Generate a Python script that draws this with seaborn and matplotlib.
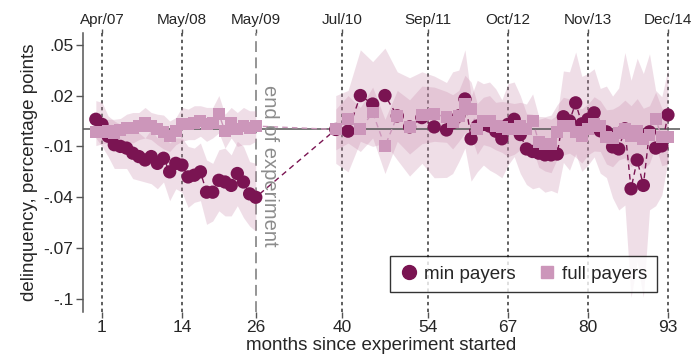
import matplotlib
matplotlib.use("Agg")
import matplotlib.pyplot as plt
from matplotlib.lines import Line2D
import pandas as pd
import seaborn as sns

# Months since the experiment started, before and after the gap
months_pre = list(range(0, 27))
months_post = [39, 41, 43, 45, 47, 49, 51, 53, 55, 57] + list(range(58, 94))

# Estimated effect on delinquency (percentage points)
min_pre = [0.006, 0.003, -0.004, -0.009, -0.010, -0.011, -0.014, -0.016, -0.018,
           -0.016, -0.020, -0.017, -0.025, -0.020, -0.021, -0.028, -0.027, -0.025,
           -0.037, -0.037, -0.030, -0.031, -0.033, -0.026, -0.031, -0.038, -0.040]
min_post = [0.000, -0.001, 0.020, 0.015, 0.020, 0.008, 0.0015, 0.007, 0.0015, -0.0003,
            0.004, 0.008, 0.018, -0.0055, 0.002, 0.003, 0.002, -0.001, -0.0055, 0.003,
            0.006, -0.003, -0.0115, -0.013, -0.014, -0.015, -0.015, -0.0145, 0.0075, 0.005,
            0.0157, 0.0033, 0.006, 0.0098, -0.0008, -0.0014, -0.0103, -0.0115, 0.0004, -0.035,
            -0.018, -0.033, -0.0014, -0.011, -0.0097, 0.0086]
full_pre = [-0.0015, -0.0015, -0.001, -0.002, -0.0005, 0.001, 0.001, 0.002, 0.004,
            0.002, 0.000, -0.0015, -0.004, -0.001, 0.003, 0.003, 0.004, 0.005,
            0.003, 0.004, 0.009, -0.001, 0.004, 0.000, 0.002, 0.001, 0.002]
full_post = [0.000, 0.006, 0.000, 0.010, -0.010, 0.008, 0.0015, 0.0086, 0.009, 0.0074,
             0.0045, 0.008, 0.015, 0.012, 0.0003, 0.005, 0.005, 0.002, 0.0015, 0.000,
             0.0003, 0.002, 0.000, 0.005, -0.0073, -0.0085, -0.0085, -0.0014, 0.002, 0.002,
             -0.0014, -0.0038, 0.000, 0.0033, 0.002, -0.0044, -0.005, -0.002, 0.0003, -0.004,
             -0.0008, -0.0055, -0.003, 0.006, -0.0044, -0.0044]

# Half-widths of the confidence bands
min_pre_ci = [0.011, 0.013, 0.012, 0.014, 0.013, 0.012, 0.015, 0.014, 0.013,
              0.016, 0.015, 0.014, 0.017, 0.015, 0.016, 0.018, 0.016, 0.017,
              0.019, 0.017, 0.018, 0.020, 0.018, 0.019, 0.021, 0.019, 0.020]
min_post_ci = [0.020, 0.024, 0.027, 0.025, 0.028, 0.026, 0.029, 0.027, 0.030, 0.028,
               0.030, 0.027, 0.029, 0.025, 0.027, 0.024, 0.026, 0.025, 0.023, 0.024,
               0.022, 0.023, 0.021, 0.022, 0.020, 0.022, 0.021, 0.023, 0.027, 0.029,
               0.030, 0.028, 0.027, 0.026, 0.025, 0.027, 0.030, 0.036, 0.045, 0.064,
               0.060, 0.066, 0.046, 0.034, 0.029, 0.027]
full_pre_ci = [0.008, 0.007, 0.007, 0.008, 0.007, 0.008, 0.009, 0.008, 0.009,
               0.008, 0.009, 0.010, 0.009, 0.008, 0.010, 0.009, 0.010, 0.009,
               0.010, 0.009, 0.011, 0.010, 0.009, 0.010, 0.011, 0.010, 0.009]
full_post_ci = [0.012, 0.014, 0.013, 0.015, 0.016, 0.015, 0.016, 0.017, 0.016, 0.015,
                0.016, 0.015, 0.017, 0.016, 0.015, 0.014, 0.015, 0.014, 0.015, 0.016,
                0.015, 0.014, 0.015, 0.016, 0.015, 0.016, 0.017, 0.016, 0.017, 0.016,
                0.015, 0.016, 0.015, 0.016, 0.015, 0.016, 0.017, 0.016, 0.017, 0.018,
                0.019, 0.018, 0.017, 0.016, 0.017, 0.016]

groups = ["min payers", "full payers"]
tick_months = [1, 14, 26, 40, 54, 67, 80, 93]
tick_dates = ["Apr/07", "May/08", "May/09", "Jul/10", "Sep/11", "Oct/12", "Nov/13", "Dec/14"]
ytick_vals = [0.05, 0.02, -0.01, -0.04, -0.07, -0.1]
ytick_labels = [".05", ".02", "-.01", "-.04", "-.07", "-.1"]

rows = []
for grp, pre, post, cpre, cpost in [
    ("min payers", min_pre, min_post, min_pre_ci, min_post_ci),
    ("full payers", full_pre, full_post, full_pre_ci, full_post_ci),
]:
    for m, v, c in zip(months_pre, pre, cpre):
        rows.append((grp, "pre", m, v, c))
    for m, v, c in zip(months_post, post, cpost):
        rows.append((grp, "post", m, v, c))
df = pd.DataFrame(rows, columns=["group", "period", "month", "value", "ci"])

dark = "#7a1452"
pink = "#cc96ba"
band = "#c98aac"
palette = {"min payers": dark, "full payers": pink}

sns.set_theme(style="white")
plt.rcParams["font.family"] = ["Liberation Sans", "DejaVu Sans"]

fig = plt.figure(figsize=(6.91, 3.57), dpi=100)
ax = fig.add_axes([0.120, 0.126, 0.864, 0.782])

# confidence bands
for grp in groups:
    for per in ["pre", "post"]:
        d = df[(df.group == grp) & (df.period == per)]
        ax.fill_between(d.month, d.value - d.ci, d.value + d.ci,
                        color=band, alpha=0.28, lw=0, zorder=1)

# reference lines
for m in tick_months:
    if m == 26:
        ax.axvline(m, color="#8c8c8c", ls=(0, (6, 3)), lw=1.3, zorder=0.5)
    else:
        ax.axvline(m, color="#333333", ls=(0, (2.2, 2.2)), lw=1.1, zorder=0.5)
ax.axhline(0, color="#555555", lw=1.1, zorder=2)

# dashed connectors then markers
for grp in groups:
    d = df[df.group == grp].sort_values("month")
    sns.lineplot(data=d, x="month", y="value", color=palette[grp], lw=1.0,
                 linestyle=(0, (4, 3)), ax=ax, legend=False, estimator=None,
                 sort=True, zorder=2.5)

sns.scatterplot(data=df[df.group == "min payers"], x="month", y="value",
                color=dark, marker="o", s=92, edgecolor="none", ax=ax,
                legend=False, zorder=3)
sns.scatterplot(data=df[df.group == "full payers"], x="month", y="value",
                color=pink, marker="s", s=74, edgecolor="none", ax=ax,
                legend=False, zorder=4)

ax.text(28.2, 0.0265, "end of experiment", rotation=-90, ha="center", va="top",
        color="#8c8c8c", fontsize=14.5)

ax.set_xlim(-2.1, 94.95)
ax.set_ylim(-0.1077, 0.057)
ax.set_yticks(ytick_vals)
ax.set_yticklabels(ytick_labels)
ax.set_xticks(tick_months)
ax.set_xticklabels([str(m) for m in tick_months])
ax.tick_params(axis="y", left=True, length=5, width=1, color="#555555",
               labelsize=12.5, pad=2)
ax.tick_params(axis="x", bottom=True, length=4, width=1, color="#555555",
               labelsize=12.5, pad=2)
for side in ["top", "right", "bottom"]:
    ax.spines[side].set_visible(False)
ax.spines["left"].set_color("#555555")
ax.spines["left"].set_linewidth(1.1)

top = ax.secondary_xaxis("top")
top.set_xticks(tick_months)
top.set_xticklabels(tick_dates)
top.tick_params(length=3, width=1, color="#555555", labelsize=11, pad=1)
top.spines["top"].set_visible(False)

ax.set_xlabel("months since experiment started", fontsize=13.5, labelpad=1)
ax.set_ylabel("delinquency, percentage points", fontsize=13.5, labelpad=4)

handles = [
    Line2D([], [], marker="o", ls="none", color=dark, markersize=10),
    Line2D([], [], marker="s", ls="none", color=pink, markersize=9),
]
leg = ax.legend(handles, groups, ncol=2, loc="lower right",
                bbox_to_anchor=(0.961, 0.072), frameon=True, fancybox=False,
                edgecolor="black", fontsize=13.5, handletextpad=0.3,
                columnspacing=1.2, borderpad=0.5, handlelength=1.0,
                borderaxespad=0)
leg.get_frame().set_linewidth(1.0)

fig.savefig("out.png", dpi=100)
